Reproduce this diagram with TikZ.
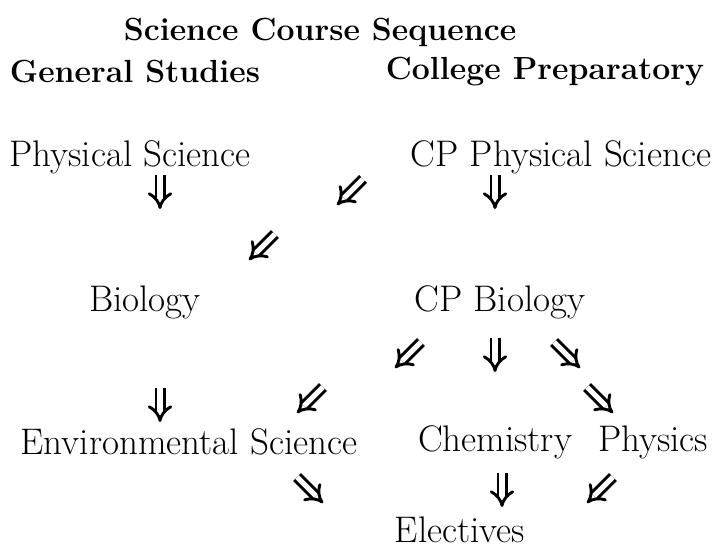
\documentclass[tikz,border=0pt]{standalone}
\usetikzlibrary{arrows.meta}

\begin{document}
\begin{tikzpicture}[
        x=0.5pt, y=-0.5pt,
        course/.style={font=\fontsize{18.5}{22}\selectfont, inner sep=0pt},
        track/.style={font=\bfseries\fontsize{16}{19}\selectfont, inner sep=0pt},
        seq/.style={double, double distance=2.6pt, line width=1.45pt, -{Implies}}
    ]
        \useasboundingbox (0,0) rectangle (723,552);

        \node[track] (title) at (320,32) {Science Course Sequence};
        \node[track] (gen) at (135,72) {General Studies};
        \node[track] (cprep) at (545,72) {College Preparatory};

        \node[course] (phys) at (130,157) {Physical Science};
        \node[course] (cpphys) at (561,157) {CP Physical Science};
        \node[course] (bio) at (145,302) {Biology};
        \node[course] (cpbio) at (500,302) {CP Biology};
        \node[course] (env) at (189,442) {Environmental Science};
        \node[course] (chem) at (495,442) {Chemistry};
        \node[course] (physics) at (653,442) {Physics};
        \node[course] (elec) at (460,530) {Electives};

        % sequence arrows
        \foreach \n/\x/\y/\dx/\dy in {a1/160/192/0/17, a2/350/192/-13/13, a3/495/192/0/17, a4/262/247/-13/13,
            b1/408/355/-13/13, b2/495/355/0/17, b3/567/355/13/13,
            c1/160/405/0/17, c2/310/400/-13/13, c3/600/400/13/13,
            d1/310/490/13/13, d2/502/490/0/17, d3/600/490/-13/13}
        {
            \coordinate (\n) at (\x,\y);
            \draw[seq] ([shift={({0-\dx},{0-\dy})}]\n) -- ([shift={(\dx,\dy)}]\n);
        }
    \end{tikzpicture}
\end{document}
